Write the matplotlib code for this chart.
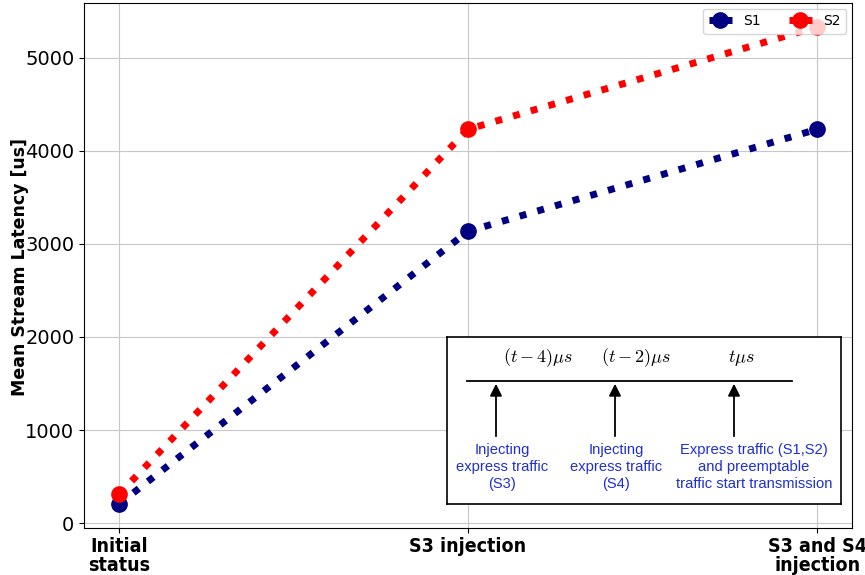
import matplotlib
matplotlib.use("Agg")
import matplotlib.pyplot as plt
from matplotlib import font_manager as fm

categories = ["Initial\nstatus", "S3 injection", "S3 and S4\ninjection"]
s1_values = [205, 3135, 4230]
s2_values = [310, 4230, 5330]
series_names = ["S1", "S2"]
yticks = [0, 1000, 2000, 3000, 4000, 5000]

timeline_labels = [r"$(t-4)\mu s$", r"$(t-2)\mu s$", r"$t\mu s$"]
event_labels = ["Injecting\nexpress traffic\n(S3)",
                "Injecting\nexpress traffic\n(S4)",
                "Express traffic (S1,S2)\nand preemptable\ntraffic start transmission"]

plt.rcParams['mathtext.fontset'] = 'cm'

# condensed bold font for x tick labels, if available
cands = [f for f in fm.findSystemFonts() if 'DejaVuSansCondensed-Bold.' in f]
if cands:
    xprop = fm.FontProperties(fname=cands[0], size=14)
else:
    xprop = fm.FontProperties(family='DejaVu Sans', weight='bold', size=13)

fig = plt.figure(figsize=(8.65, 5.75), dpi=100)
ax = fig.add_axes([84/865, 1-528/575, (852-84)/865, (528-3)/575])

x = list(range(len(categories)))
ax.plot(x, s1_values, linestyle=':', linewidth=5, color='navy', marker='o', markersize=11, label=series_names[0])
ax.plot(x, s2_values, linestyle=':', linewidth=5, color='red', marker='o', markersize=11, label=series_names[1])
ax.set_xticks(x)
ax.set_xticklabels(categories)
for lbl in ax.get_xticklabels():
    lbl.set_fontproperties(xprop)
    lbl.set_linespacing(1.0)
ax.tick_params(axis='x', pad=3)
ax.set_yticks(yticks)
ax.tick_params(axis='y', labelsize=14)
ax.set_ylabel("Mean Stream Latency [us]", fontsize=12.5, fontweight='bold')
ax.yaxis.set_label_coords(-0.072, 0.497)
ax.grid(True, color='#c8c8c8', linewidth=0.8)
ax.legend(loc='upper right', ncol=2, fontsize=10, handlelength=1.7, borderaxespad=0.4)

# inset diagram
ins = fig.add_axes([447/865, 1-504/575, 394/865, 167/575])
ins.set_xlim(0, 394)
ins.set_ylim(167, 0)
ins.set_xticks([])
ins.set_yticks([])
for sp in ins.spines.values():
    sp.set_linewidth(1.2)
ins.plot([20, 345], [44, 44], color='black', linewidth=1.3)
label_x = [91, 189, 294]
arrow_x = [49, 168, 287]
text_x = [55, 169, 307]
for lx, axx, tx, tl, ev in zip(label_x, arrow_x, text_x, timeline_labels, event_labels):
    ins.text(lx, 21, tl, ha='center', va='center', fontsize=13)
    ins.annotate("", xy=(axx, 44), xytext=(axx, 102),
                 arrowprops=dict(arrowstyle='-|>', color='black', lw=1.3, mutation_scale=18))
    ins.text(tx, 130, ev, ha='center', va='center', fontsize=10.6, color='#1f2fd6',
             family='Liberation Sans', linespacing=1.3)

fig.savefig("out.png", dpi=100)
